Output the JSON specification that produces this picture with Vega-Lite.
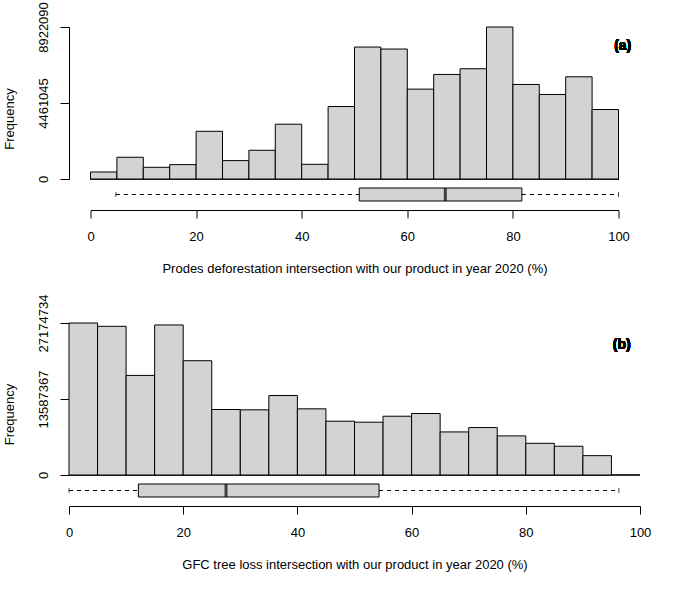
{
  "$schema": "https://vega.github.io/schema/vega-lite/v6.json",
  "padding": {"left": 3, "top": 1, "right": 5, "bottom": 5},
  "background": "white",
  "datasets": {
    "ha": [
      {"lo": 0, "hi": 5, "n": 412000}, {"lo": 5, "hi": 10, "n": 1275000},
      {"lo": 10, "hi": 15, "n": 686000}, {"lo": 15, "hi": 20, "n": 843000},
      {"lo": 20, "hi": 25, "n": 2800000}, {"lo": 25, "hi": 30, "n": 1080000},
      {"lo": 30, "hi": 35, "n": 1686000}, {"lo": 35, "hi": 40, "n": 3216000},
      {"lo": 40, "hi": 45, "n": 863000}, {"lo": 45, "hi": 50, "n": 4255000},
      {"lo": 50, "hi": 55, "n": 7746000}, {"lo": 55, "hi": 60, "n": 7628000},
      {"lo": 60, "hi": 65, "n": 5275000}, {"lo": 65, "hi": 70, "n": 6138000},
      {"lo": 70, "hi": 75, "n": 6471000}, {"lo": 75, "hi": 80, "n": 8922090},
      {"lo": 80, "hi": 85, "n": 5549000}, {"lo": 85, "hi": 90, "n": 4961000},
      {"lo": 90, "hi": 95, "n": 6000000}, {"lo": 95, "hi": 100, "n": 4079000}
    ],
    "hb": [
      {"lo": 0, "hi": 5, "n": 27174734}, {"lo": 5, "hi": 10, "n": 26580000},
      {"lo": 10, "hi": 15, "n": 17800000}, {"lo": 15, "hi": 20, "n": 26820000},
      {"lo": 20, "hi": 25, "n": 20430000}, {"lo": 25, "hi": 30, "n": 11710000},
      {"lo": 30, "hi": 35, "n": 11650000}, {"lo": 35, "hi": 40, "n": 14210000},
      {"lo": 40, "hi": 45, "n": 11830000}, {"lo": 45, "hi": 50, "n": 9620000},
      {"lo": 50, "hi": 55, "n": 9440000}, {"lo": 55, "hi": 60, "n": 10510000},
      {"lo": 60, "hi": 65, "n": 10990000}, {"lo": 65, "hi": 70, "n": 7700000},
      {"lo": 70, "hi": 75, "n": 8480000}, {"lo": 75, "hi": 80, "n": 6990000},
      {"lo": 80, "hi": 85, "n": 5670000}, {"lo": 85, "hi": 90, "n": 5140000},
      {"lo": 90, "hi": 95, "n": 3460000}
    ],
    "ba": [{"panel": "a", "wlo": 4.8, "q1": 50.9, "med": 67.2, "q3": 81.7, "whi": 100}],
    "bb": [{"panel": "b", "wlo": 0, "q1": 12.15, "med": 27.5, "q3": 54.3, "whi": 96.3}]
  },
  "vconcat": [
    {
      "width": 528, "height": 152,
      "data": {"name": "ha"},
      "layer": [
        {
          "mark": {"type": "rule", "color": "#333", "strokeWidth": 1},
          "encoding": {"x": {"datum": 0, "type": "quantitative", "scale": {"domain": [0, 100], "nice": false, "zero": false}, "axis": null}, "x2": {"datum": 100}, "y": {"datum": 0, "type": "quantitative", "title": "Frequency"}}
        },
        {
          "mark": {"type": "rect", "fill": "#d3d3d3", "stroke": "#000", "strokeWidth": 1},
          "encoding": {
            "x": {"field": "lo", "type": "quantitative", "axis": null},
            "x2": {"field": "hi"},
            "y": {"field": "n", "type": "quantitative", "title": "Frequency",
              "scale": {"domain": [0, 8922090], "nice": false},
              "axis": {"values": [0, 2230522.5, 4461045, 6691567.5, 8922090], "format": "d",
                "labelExpr": "(datum.value == 0 || datum.value == 4461045 || datum.value == 8922090) ? datum.label : ''",
                "offset": 21.5, "tickSize": 9, "labelAngle": 270, "labelAlign": "center", "labelBaseline": "alphabetic",
                "labelPadding": 12.6, "labelFlush": false, "labelOverlap": false, "labelBound": false,
                "titleAngle": 270, "titleX": -56, "titleY": 91.5, "titleAlign": "center", "titleBaseline": "alphabetic"}},
            "y2": {"datum": 0}
          }
        },
        {
          "mark": {"type": "text", "text": "(a)", "fontWeight": "bold", "fontSize": 14, "align": "center", "baseline": "middle", "fill": "#000", "font": "Liberation Sans"},
          "encoding": {"x": {"datum": 100.8, "type": "quantitative", "axis": null}, "y": {"datum": 7800000, "type": "quantitative", "title": "Frequency"}}
        }
      ]
    },
    {
      "width": 528, "height": 31,
      "data": {"name": "ba"},
      "layer": [
        {
          "mark": {"type": "rule", "color": "#000", "strokeWidth": 1, "strokeDash": [4, 4]},
          "encoding": {
            "x": {"field": "wlo", "type": "quantitative", "scale": {"domain": [0, 100], "nice": false, "zero": false},
              "title": "Prodes deforestation intersection with our product in year 2020 (%)",
              "axis": {"values": [0, 20, 40, 60, 80, 100], "tickSize": 8, "labelPadding": 12, "labelFlush": false, "labelOverlap": false,
                "titleY": 62.5, "titleBaseline": "alphabetic"}},
            "x2": {"field": "q1"},
            "y": {"field": "panel", "type": "nominal", "axis": null}
          }
        },
        {
          "mark": {"type": "rule", "color": "#000", "strokeWidth": 1, "strokeDash": [4, 4]},
          "encoding": {
            "x": {"field": "q3", "type": "quantitative", "title": "Prodes deforestation intersection with our product in year 2020 (%)"},
            "x2": {"field": "whi"},
            "y": {"field": "panel", "type": "nominal", "axis": null}
          }
        },
        {
          "mark": {"type": "bar", "fill": "#d3d3d3", "stroke": "#000", "strokeWidth": 1, "size": 13},
          "encoding": {
            "x": {"field": "q1", "type": "quantitative", "title": "Prodes deforestation intersection with our product in year 2020 (%)"},
            "x2": {"field": "q3"},
            "y": {"field": "panel", "type": "nominal", "axis": null}
          }
        },
        {
          "mark": {"type": "tick", "color": "#000", "thickness": 3, "size": 13},
          "encoding": {
            "x": {"field": "med", "type": "quantitative", "title": "Prodes deforestation intersection with our product in year 2020 (%)"},
            "y": {"field": "panel", "type": "nominal", "axis": null}
          }
        },
        {
          "mark": {"type": "tick", "color": "#000", "thickness": 1, "size": 5},
          "encoding": {
            "x": {"field": "wlo", "type": "quantitative", "title": "Prodes deforestation intersection with our product in year 2020 (%)"},
            "y": {"field": "panel", "type": "nominal", "axis": null}
          }
        },
        {
          "mark": {"type": "tick", "color": "#000", "thickness": 1, "size": 5},
          "encoding": {
            "x": {"field": "whi", "type": "quantitative", "title": "Prodes deforestation intersection with our product in year 2020 (%)"},
            "y": {"field": "panel", "type": "nominal", "axis": null}
          }
        }
      ]
    },
    {
      "width": 1, "height": 113,
      "data": {"values": [{"z": 1}]},
      "mark": {"type": "point", "opacity": 0},
      "encoding": {}
    },
    {
      "width": 571, "height": 152,
      "data": {"name": "hb"},
      "layer": [
        {
          "mark": {"type": "rule", "color": "#333", "strokeWidth": 1},
          "encoding": {"x": {"datum": 0, "type": "quantitative", "scale": {"domain": [0, 100], "nice": false, "zero": false}, "axis": null}, "x2": {"datum": 100}, "y": {"datum": 0, "type": "quantitative", "title": "Frequency"}}
        },
        {
          "mark": {"type": "rect", "fill": "#d3d3d3", "stroke": "#000", "strokeWidth": 1},
          "encoding": {
            "x": {"field": "lo", "type": "quantitative", "axis": null},
            "x2": {"field": "hi"},
            "y": {"field": "n", "type": "quantitative", "title": "Frequency",
              "scale": {"domain": [0, 27174734], "nice": false},
              "axis": {"values": [0, 6793683.5, 13587367, 20381050.5, 27174734], "format": "d",
                "labelExpr": "(datum.value == 0 || datum.value == 13587367 || datum.value == 27174734) ? datum.label : ''",
                "offset": 0, "tickSize": 9, "labelAngle": 270, "labelAlign": "center", "labelBaseline": "alphabetic",
                "labelPadding": 12.6, "labelFlush": false, "labelOverlap": false, "labelBound": false,
                "titleAngle": 270, "titleX": -56, "titleY": 91, "titleAlign": "center", "titleBaseline": "alphabetic"}},
            "y2": {"datum": 0}
          }
        },
        {
          "mark": {"type": "text", "text": "(b)", "fontWeight": "bold", "fontSize": 14, "align": "center", "baseline": "middle", "fill": "#000", "font": "Liberation Sans"},
          "encoding": {"x": {"datum": 96.8, "type": "quantitative", "axis": null}, "y": {"datum": 23200000, "type": "quantitative", "title": "Frequency"}}
        }
      ]
    },
    {
      "width": 571, "height": 31,
      "data": {"name": "bb"},
      "layer": [
        {
          "mark": {"type": "rule", "color": "#000", "strokeWidth": 1, "strokeDash": [4, 4]},
          "encoding": {
            "x": {"field": "wlo", "type": "quantitative", "scale": {"domain": [0, 100], "nice": false, "zero": false},
              "title": "GFC tree loss intersection with our product in year 2020 (%)",
              "axis": {"values": [0, 20, 40, 60, 80, 100], "tickSize": 8, "labelPadding": 12, "labelFlush": false, "labelOverlap": false,
                "titleY": 62.5, "titleBaseline": "alphabetic"}},
            "x2": {"field": "q1"},
            "y": {"field": "panel", "type": "nominal", "axis": null}
          }
        },
        {
          "mark": {"type": "rule", "color": "#000", "strokeWidth": 1, "strokeDash": [4, 4]},
          "encoding": {
            "x": {"field": "q3", "type": "quantitative", "title": "GFC tree loss intersection with our product in year 2020 (%)"},
            "x2": {"field": "whi"},
            "y": {"field": "panel", "type": "nominal", "axis": null}
          }
        },
        {
          "mark": {"type": "bar", "fill": "#d3d3d3", "stroke": "#000", "strokeWidth": 1, "size": 13},
          "encoding": {
            "x": {"field": "q1", "type": "quantitative", "title": "GFC tree loss intersection with our product in year 2020 (%)"},
            "x2": {"field": "q3"},
            "y": {"field": "panel", "type": "nominal", "axis": null}
          }
        },
        {
          "mark": {"type": "tick", "color": "#000", "thickness": 3, "size": 13},
          "encoding": {
            "x": {"field": "med", "type": "quantitative", "title": "GFC tree loss intersection with our product in year 2020 (%)"},
            "y": {"field": "panel", "type": "nominal", "axis": null}
          }
        },
        {
          "mark": {"type": "tick", "color": "#000", "thickness": 1, "size": 5},
          "encoding": {
            "x": {"field": "wlo", "type": "quantitative", "title": "GFC tree loss intersection with our product in year 2020 (%)"},
            "y": {"field": "panel", "type": "nominal", "axis": null}
          }
        },
        {
          "mark": {"type": "tick", "color": "#000", "thickness": 1, "size": 5},
          "encoding": {
            "x": {"field": "whi", "type": "quantitative", "title": "GFC tree loss intersection with our product in year 2020 (%)"},
            "y": {"field": "panel", "type": "nominal", "axis": null}
          }
        }
      ]
    }
  ],
  "spacing": 0,
  "bounds": "flush",
  "center": true,
  "resolve": {"scale": {"x": "independent", "y": "independent"}, "axis": {"x": "independent", "y": "independent"}},
  "config": {
    "font": "Liberation Sans",
    "view": {"stroke": null},
    "axis": {"labelFont": "Liberation Sans", "titleFont": "Liberation Sans", "labelFontSize": 13, "titleFontSize": 13,
      "labelColor": "#000", "titleColor": "#000", "titleFontWeight": "normal", "domainColor": "#000", "tickColor": "#000",
      "domainWidth": 1, "tickWidth": 1, "grid": false}
  }
}
